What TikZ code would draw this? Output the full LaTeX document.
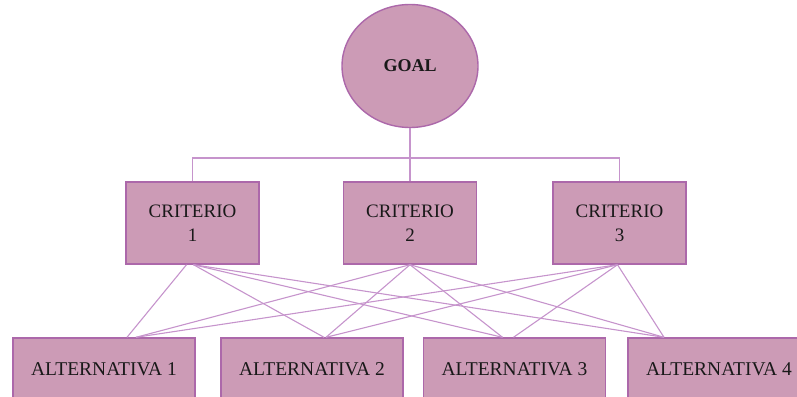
\documentclass[tikz,border=0pt]{standalone}
\usepackage{fontspec}
\setmainfont{Liberation Serif}
\usetikzlibrary{shapes.geometric}
\definecolor{boxfill}{RGB}{204,155,182}
\definecolor{boxline}{RGB}{172,104,170}
\definecolor{linkline}{RGB}{198,148,204}
\begin{document}
\begin{tikzpicture}[x=1pt,y=-1pt,
  every node/.style={font=\fontsize{19}{24}\selectfont,text=black!90},
  crit/.style={rectangle,draw=boxline,fill=boxfill,line width=1.4pt,minimum width=133pt,minimum height=82pt,align=center},
  alt/.style={rectangle,draw=boxline,fill=boxfill,line width=1.4pt,minimum width=182pt,minimum height=62pt,font=\fontsize{19.5}{24}\selectfont},
  link/.style={draw=linkline,line width=1.1pt}]
  \useasboundingbox (0,0) rectangle (797,396);
  \node[ellipse,draw=boxline,fill=boxfill,line width=1.4pt,minimum width=136pt,minimum height=123pt,inner sep=0pt,font=\fontsize{18}{22}\bfseries\selectfont] (goal) at (410,66) {GOAL};
  \node[crit] (crit1) at (192.5,223) {CRITERIO\\1};
  \node[crit] (crit2) at (410,223) {CRITERIO\\2};
  \node[crit] (crit3) at (619.5,223) {CRITERIO\\3};
  \node[alt] (alt1) at (104,369) {ALTERNATIVA 1};
  \node[alt] (alt2) at (312,369) {ALTERNATIVA 2};
  \node[alt] (alt3) at (514.5,369) {ALTERNATIVA 3};
  \node[alt] (alt4) at (719,369) {ALTERNATIVA 4};
  \coordinate (bar) at (410,158);
  \draw[link] (goal) -- (crit2);
  \draw[link] (crit1.north) |- (bar) -| (crit3.north);
  % criterio 1
  \draw[link] ([xshift=-6pt]crit1.south) -- ([xshift=23pt]alt1.north);
  \foreach \a/\s in {alt2/12,alt3/-12,alt4/-55}
    \draw[link] ([xshift=1pt]crit1.south) -- ([xshift=\s pt]\a.north);
  % criterio 2
  \foreach \a/\s in {alt1/32,alt2/14,alt3/-12,alt4/-55}
    \draw[link] (crit2.south) -- ([xshift=\s pt]\a.north);
  % criterio 3
  \foreach \a/\s in {alt1/32,alt2/14,alt3/-1,alt4/-55}
    \draw[link] ([xshift=-2pt]crit3.south) -- ([xshift=\s pt]\a.north);
\end{tikzpicture}
\end{document}
